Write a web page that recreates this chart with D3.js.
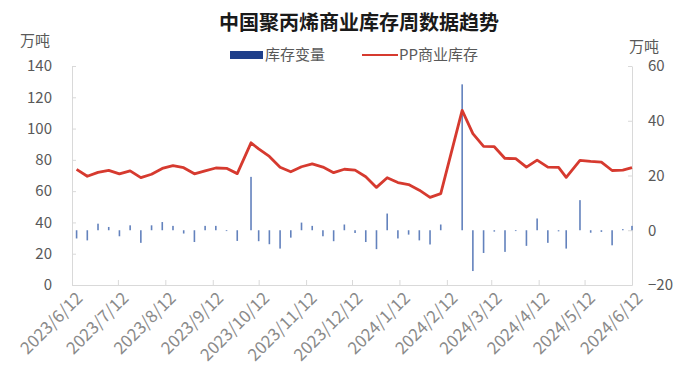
<!DOCTYPE html>
<html>
  <head>
    <meta http-equiv="Content-Type" content="text/html;charset=utf-8">
    <title>PP commercial inventory</title>
    <script type="text/javascript" src="https://cdnjs.cloudflare.com/ajax/libs/d3/7.8.5/d3.min.js"></script>
    <style type="text/css">
body {
    margin: 0;
    background: #fff;
}
text {
    font-family: "Noto Sans CJK SC", "Noto Sans", sans-serif;
    fill: #595959;
}
.title {
    font-size: 20px;
    font-weight: bold;
    fill: #1a1a1a;
}
.axis path, .axis line {
    stroke: #d9d9d9;
}
.axis text {
    font-size: 15px;
}
.xaxis text {
    font-size: 17px;
    fill: #8a8a8a;
}
.legend text, .unit {
    font-size: 15px;
}
    </style>
  </head>
  <body>
    <script type="text/javascript">
// weekly dates (mostly Thursdays, holidays shifted)
var dates = [
  "2023-06-15", "2023-06-22", "2023-06-29", "2023-07-06", "2023-07-13", "2023-07-20",
  "2023-07-27", "2023-08-03", "2023-08-10", "2023-08-17", "2023-08-24", "2023-08-31",
  "2023-09-07", "2023-09-14", "2023-09-21", "2023-09-28", "2023-10-07", "2023-10-12",
  "2023-10-19", "2023-10-26", "2023-11-02", "2023-11-09", "2023-11-16", "2023-11-23",
  "2023-11-30", "2023-12-07", "2023-12-14", "2023-12-21", "2023-12-28", "2024-01-04",
  "2024-01-11", "2024-01-18", "2024-01-25", "2024-02-01", "2024-02-08", "2024-02-22",
  "2024-02-29", "2024-03-07", "2024-03-14", "2024-03-21", "2024-03-28", "2024-04-04",
  "2024-04-11", "2024-04-18", "2024-04-25", "2024-04-30", "2024-05-09", "2024-05-16",
  "2024-05-23", "2024-05-30", "2024-06-06", "2024-06-12"
];

// PP商业库存 (万吨, left axis)
var stock = [
  73.9, 69.5, 72.0, 73.3, 71.0, 73.0,
  68.6, 70.8, 74.5, 76.3, 75.0, 71.1,
  73.0, 74.8, 74.6, 71.2, 90.9, 87.0,
  82.2, 75.3, 72.4, 75.6, 77.4, 75.4,
  71.8, 74.0, 73.4, 69.2, 62.4, 68.6,
  65.5, 64.2, 60.6, 56.0, 58.4, 111.6,
  96.8, 88.6, 88.4, 80.9, 80.8, 75.4,
  79.8, 75.4, 75.2, 68.8, 79.7, 79.0,
  78.5, 73.2, 73.4, 75.0
];

// 库存变量 (万吨, right axis)
var change = [
  -3.0, -3.7, 2.4, 1.2, -2.2, 1.8,
  -4.6, 1.8, 3.0, 1.6, -1.2, -4.3,
  1.6, 1.6, -0.3, -3.9, 19.5, -4.0,
  -5.1, -6.7, -2.7, 2.8, 1.6, -2.2,
  -4.0, 2.1, -1.0, -4.3, -6.9, 6.1,
  -3.0, -1.6, -3.7, -5.2, 2.1, 53.3,
  -14.9, -8.3, -0.5, -7.9, -0.3, -5.7,
  4.3, -4.6, -0.4, -6.7, 11.0, -0.9,
  -0.6, -5.5, 0.4, 1.6
];

var tickLabels = [
  "2023/6/12", "2023/7/12", "2023/8/12", "2023/9/12", "2023/10/12", "2023/11/12",
  "2023/12/12", "2024/1/12", "2024/2/12", "2024/3/12", "2024/4/12", "2024/5/12", "2024/6/12"
];
var leftTicks = [0, 20, 40, 60, 80, 100, 120, 140];
var rightTicks = [-20, 0, 20, 40, 60];

var width = 689,
    height = 382;
var plotL = 72, plotR = 632, plotT = 66, plotB = 285;

var parseDay = d3.timeParse("%Y-%m-%d"),
    parseTick = d3.timeParse("%Y/%m/%d");
var rows = dates.map(function(d, i) {
  return {date: parseDay(d), stock: stock[i], change: change[i]};
});
var tickDates = tickLabels.map(function(t) { return parseTick(t); });

var x = d3.scaleTime()
  .domain([tickDates[0], tickDates[tickDates.length - 1]])
  .range([plotL, plotR]);
var yL = d3.scaleLinear().domain([0, 140]).range([plotB, plotT]);
var yR = d3.scaleLinear().domain([-20, 60]).range([plotB, plotT]);

var svg = d3.select("body")
  .append("svg")
  .attr("width", width)
  .attr("height", height);

svg.append("text")
  .attr("class", "title")
  .attr("x", 359)
  .attr("y", 30)
  .attr("text-anchor", "middle")
  .text("中国聚丙烯商业库存周数据趋势");

svg.append("text").attr("class", "unit").attr("x", 35).attr("y", 46)
  .attr("text-anchor", "middle").text("万吨");
svg.append("text").attr("class", "unit").attr("x", 644).attr("y", 52)
  .attr("text-anchor", "middle").text("万吨");

// legend
var legend = svg.append("g").attr("class", "legend");
legend.append("rect")
  .attr("x", 230).attr("y", 51).attr("width", 33).attr("height", 8)
  .attr("fill", "#1f3f8a");
legend.append("text").attr("x", 265).attr("y", 60).text("库存变量");
legend.append("line")
  .attr("x1", 362).attr("x2", 398).attr("y1", 55).attr("y2", 55)
  .attr("stroke", "#d63a2f").attr("stroke-width", 2);
legend.append("text").attr("x", 399).attr("y", 60).text("PP商业库存");

// axes
svg.append("g")
  .attr("class", "axis")
  .attr("transform", "translate(" + plotL + ",0)")
  .call(d3.axisLeft(yL).tickValues(leftTicks).tickSizeInner(-4).tickSizeOuter(0).tickPadding(20));

svg.append("g")
  .attr("class", "axis")
  .attr("transform", "translate(" + plotR + ",0)")
  .call(d3.axisRight(yR).tickValues(rightTicks).tickSizeInner(-4).tickSizeOuter(0).tickPadding(16));

var xAxis = svg.append("g")
  .attr("class", "axis xaxis")
  .attr("transform", "translate(0," + plotB + ")")
  .call(d3.axisBottom(x).tickValues(tickDates).tickSizeInner(-5).tickSizeOuter(0)
    .tickFormat(function(d, i) { return tickLabels[i]; }));
xAxis.selectAll("text")
  .attr("text-anchor", "end")
  .attr("transform", "translate(7,10) rotate(-45)")
  .attr("x", 0)
  .attr("y", 0)
  .attr("dy", "0.35em");

// bars
svg.append("g")
  .selectAll("rect")
  .data(rows)
  .enter()
  .append("rect")
  .attr("x", function(d) { return x(d.date) - 0.8; })
  .attr("width", 1.6)
  .attr("y", function(d) { return Math.min(yR(0), yR(d.change)); })
  .attr("height", function(d) { return Math.abs(yR(d.change) - yR(0)); })
  .attr("fill", "#6382bd");

// line
var line = d3.line()
  .x(function(d) { return x(d.date); })
  .y(function(d) { return yL(d.stock); });

svg.append("path")
  .datum(rows)
  .attr("d", line)
  .attr("fill", "none")
  .attr("stroke", "#d63a2f")
  .attr("stroke-width", 2.8)
  .attr("stroke-linejoin", "round");
    </script>
  </body>
</html>
